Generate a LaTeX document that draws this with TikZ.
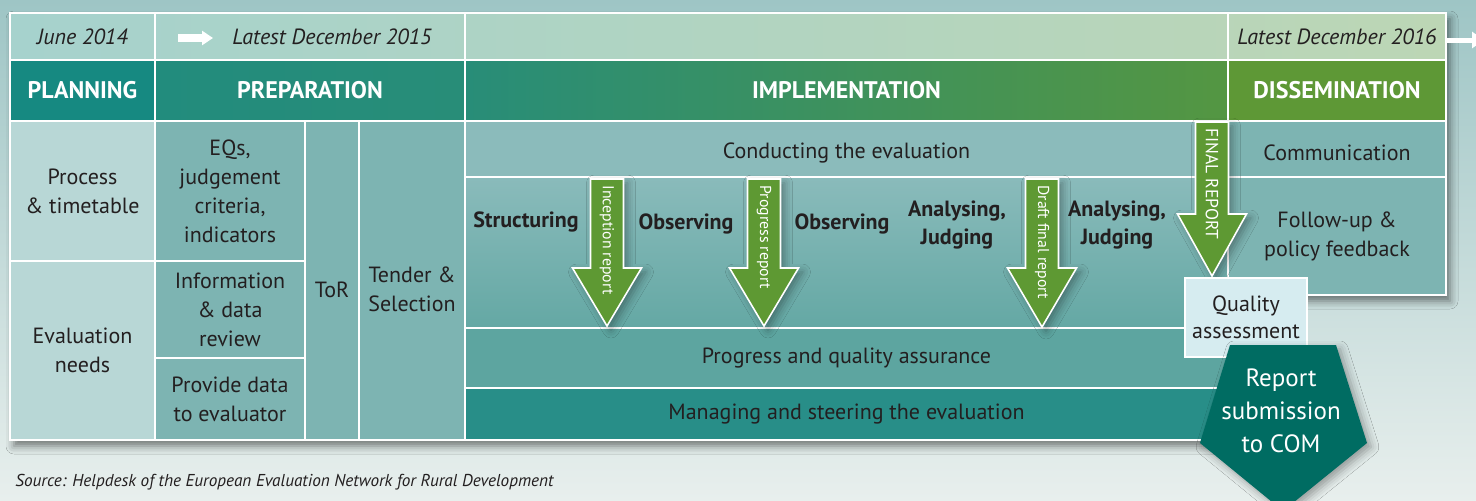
\documentclass[tikz,border=0pt]{standalone}
\usepackage{fontspec}
\setmainfont{PT Sans}
\usetikzlibrary{positioning,fit,shadows.blur,arrows.meta}

\definecolor{txtdark}{RGB}{35,31,32}
\definecolor{bgtop}{RGB}{158,197,197}
\definecolor{bgbottom}{RGB}{232,239,237}
\definecolor{dateleft}{RGB}{166,210,205}
\definecolor{dateright}{RGB}{188,214,181}
\definecolor{planteal}{RGB}{22,137,129}
\definecolor{prepteal}{RGB}{34,140,125}
\definecolor{implteal}{RGB}{40,141,120}
\definecolor{implgreen}{RGB}{84,150,66}
\definecolor{dissgreen}{RGB}{94,152,54}
\definecolor{planlight}{RGB}{184,215,214}
\definecolor{midteal}{RGB}{125,180,178}
\definecolor{conductteal}{RGB}{139,187,187}
\definecolor{bandtop}{RGB}{138,187,187}
\definecolor{bandbottom}{RGB}{100,168,164}
\definecolor{assureteal}{RGB}{93,165,160}
\definecolor{manageteal}{RGB}{40,142,136}
\definecolor{reportgreen}{RGB}{94,153,51}
\definecolor{qualitylight}{RGB}{214,236,240}
\definecolor{comteal}{RGB}{0,108,98}

\tikzset{
  cell/.style={draw=white,line width=0.9pt,inner sep=0pt,outer sep=0pt},
  celltext/.style={align=center,inner sep=0pt,text=txtdark,font=\fontsize{11}{14.5}\selectfont},
  datetext/.style={inner sep=0pt,text=txtdark,font=\fontsize{11}{13}\selectfont\itshape},
  phasetext/.style={inner sep=0pt,text=white,font=\fontsize{12}{14}\selectfont\bfseries},
  plancell/.style={cell,fill=planlight},
  prepcell/.style={cell,fill=midteal},
  stage/.style={align=center,inner sep=0pt,text=txtdark,font=\fontsize{11}{13.5}\selectfont\bfseries},
  reportarrow/.style={fill=reportgreen,draw=white,line width=0.8pt,line join=miter,
    blur shadow={shadow xshift=2pt,shadow yshift=-2pt,shadow blur radius=4pt,shadow opacity=35}},
  reportlabel/.style={rotate=-90,anchor=west,inner sep=0pt,text=white,font=\fontsize{7.9}{8}\selectfont},
  timearrow/.style={draw=white,line width=4pt,-{Triangle[length=5.5pt,width=7pt]}}
}

\begin{document}
\begin{tikzpicture}[x=0.5pt,y=-0.5pt]
  \useasboundingbox (0,0) rectangle (1476,500);
  \shade[top color=bgtop,bottom color=bgbottom] (0,0) rectangle (1476,500);
  % frame with its shadow
  \fill[bgtop,blur shadow={shadow xshift=2pt,shadow yshift=-3pt,shadow blur radius=4pt,shadow opacity=50}]
    (10,13) -- (1446,13) -- (1446,295) -- (1228,295) -- (1228,440) -- (10,440) -- cycle;

  % dates
  \node[cell,fit={(10,13) (155,60)},left color=dateleft,right color=dateleft!90!dateright] (june) {};
  \node[cell,fit={(155,13) (465,60)},left color=dateleft!90!dateright,right color=dateleft!68!dateright] (prepdate) {};
  \node[cell,fit={(465,13) (1228,60)},left color=dateleft!68!dateright,right color=dateleft!15!dateright] (impldate) {};
  \node[cell,fit={(1228,13) (1446,60)},left color=dateleft!15!dateright,right color=dateright] (dissdate) {};
  \node[datetext] (date14) at (june.center) {June 2014};
  \node[datetext] (date15) at (332,37) {Latest December 2015};
  \node[datetext] (date16) at (dissdate.center) {Latest December 2016};
  \coordinate (prepstart) at (178,38);
  \coordinate (prepend) at (213,38);
  \draw[timearrow] (prepstart) -- (prepend);
  \coordinate (onward) at (1484,40);
  \draw[timearrow,line width=2.5pt,-{Triangle[length=6pt,width=8pt]}] (onward -| dissdate.east) -- (onward);

  % phases
  \node[cell,fit={(10,60) (155,121)},fill=planteal] (planning) {};
  \node[cell,fit={(155,60) (465,121)},left color=prepteal,right color=implteal] (preparation) {};
  \node[cell,fit={(465,60) (1228,121)},left color=implteal,right color=implgreen] (implementation) {};
  \node[cell,fit={(1228,60) (1446,121)},fill=dissgreen] (dissemination) {};
  \foreach \c/\t in {planning/PLANNING,preparation/PREPARATION,implementation/IMPLEMENTATION,dissemination/DISSEMINATION}
    \node[phasetext] (\c-text) at (\c.center) {\t};

  % planning and preparation
  \node[plancell,fit={(10,121) (155,261)}] (process) {};
  \node[plancell,fit={(10,261) (155,440)}] (needs) {};
  \node[prepcell,fit={(155,121) (305,261)}] (eqs) {};
  \node[prepcell,fit={(155,261) (305,358)}] (review) {};
  \node[prepcell,fit={(155,358) (305,440)}] (provide) {};
  \node[prepcell,fit={(305,121) (359,440)}] (tor) {};
  \node[prepcell,fit={(359,121) (465,440)}] (tender) {};

  % implementation
  \node[cell,fit={(465,121) (1228,177)},fill=conductteal] (conducting) {};
  \node[cell,fit={(465,177) (1228,328)},top color=bandtop,bottom color=bandbottom] (band) {};
  \node[cell,fit={(465,328) (1228,388)},fill=assureteal] (assurance) {};
  \node[cell,fit={(465,388) (1228,440)},fill=manageteal] (managing) {};

  % dissemination
  \node[prepcell,fit={(1228,121) (1446,177)}] (communication) {};
  \node[prepcell,fit={(1228,177) (1446,295)}] (followup) {};

  \foreach \c/\t in {process/{Process\\\& timetable},needs/{Evaluation\\needs},
      eqs/{EQs,\\judgement\\criteria,\\indicators},review/{Information\\\& data\\review},
      provide/{Provide data\\to evaluator},assurance/{Progress and quality assurance},
      managing/{Managing and steering the evaluation},followup/{Follow-up \&\\policy feedback}}
    \node[celltext] (\c-text) at (\c.center) {\t};
  \node[celltext] (conducting-text) at ([yshift=-2pt]conducting.center) {Conducting the evaluation};
  \node[celltext] (communication-text) at ([yshift=-2pt]communication.center) {Communication};
  \node[celltext] (tor-text) at ([yshift=-4.5pt]tor.center) {ToR};
  \node[celltext] (tender-text) at ([yshift=-4.5pt]tender.center) {Tender \&\\Selection};

  \node[stage] (structuring) at (526,222) {Structuring};
  \node[stage] (observing1) at (686,224) {Observing};
  \node[stage] (observing2) at (842,224) {Observing};
  \node[stage] (analysing1) at (957,225) {Analysing,\\Judging};
  \node[stage] (analysing2) at (1117,225) {Analysing,\\Judging};

  % reports
  \foreach \ax/\ay/\ahy/\aty/\aname/\alabel in {607/179/268/326/inception/{Inception report},
      764/179/268/326/progress/{Progress report},1042/179/268/327/draft/{Draft final report},
      1212/122/214/276/final/{\fontsize{8.8}{9}\selectfont FINAL REPORT}}{
    \fill[reportarrow] ({\ax-16.5},\ay) -- ({\ax+16.5},\ay) -- ({\ax+16.5},\ahy) -- ({\ax+34.5},\ahy)
      -- (\ax,\aty) -- ({\ax-34.5},\ahy) -- ({\ax-16.5},\ahy) -- cycle;
    \node[reportlabel] (\aname) at (\ax,{\ay+6}) {\alabel};
  }

  \node[cell,fit={(1185,278) (1307,357)},fill=qualitylight] (quality) {};
  \node[celltext,font=\fontsize{11}{13.5}\selectfont] (quality-text) at (quality.center) {Quality\\assessment};
  \fill[comteal,blur shadow={shadow xshift=2pt,shadow yshift=-2pt,shadow blur radius=4pt,shadow opacity=35}]
    (1230,345) -- (1336,345) -- (1367,443) -- (1283,511) -- (1200,443) -- cycle;
  \node[align=center,text=white,font=\fontsize{12.5}{16.5}\selectfont] (submission) at (1281,411) {Report\\submission\\to COM};

  \node[anchor=west,inner sep=0pt,text=txtdark,font=\fontsize{8.6}{10}\selectfont\itshape] (source) at (15,482)
    {Source: Helpdesk of the European Evaluation Network for Rural Development};
\end{tikzpicture}
\end{document}
